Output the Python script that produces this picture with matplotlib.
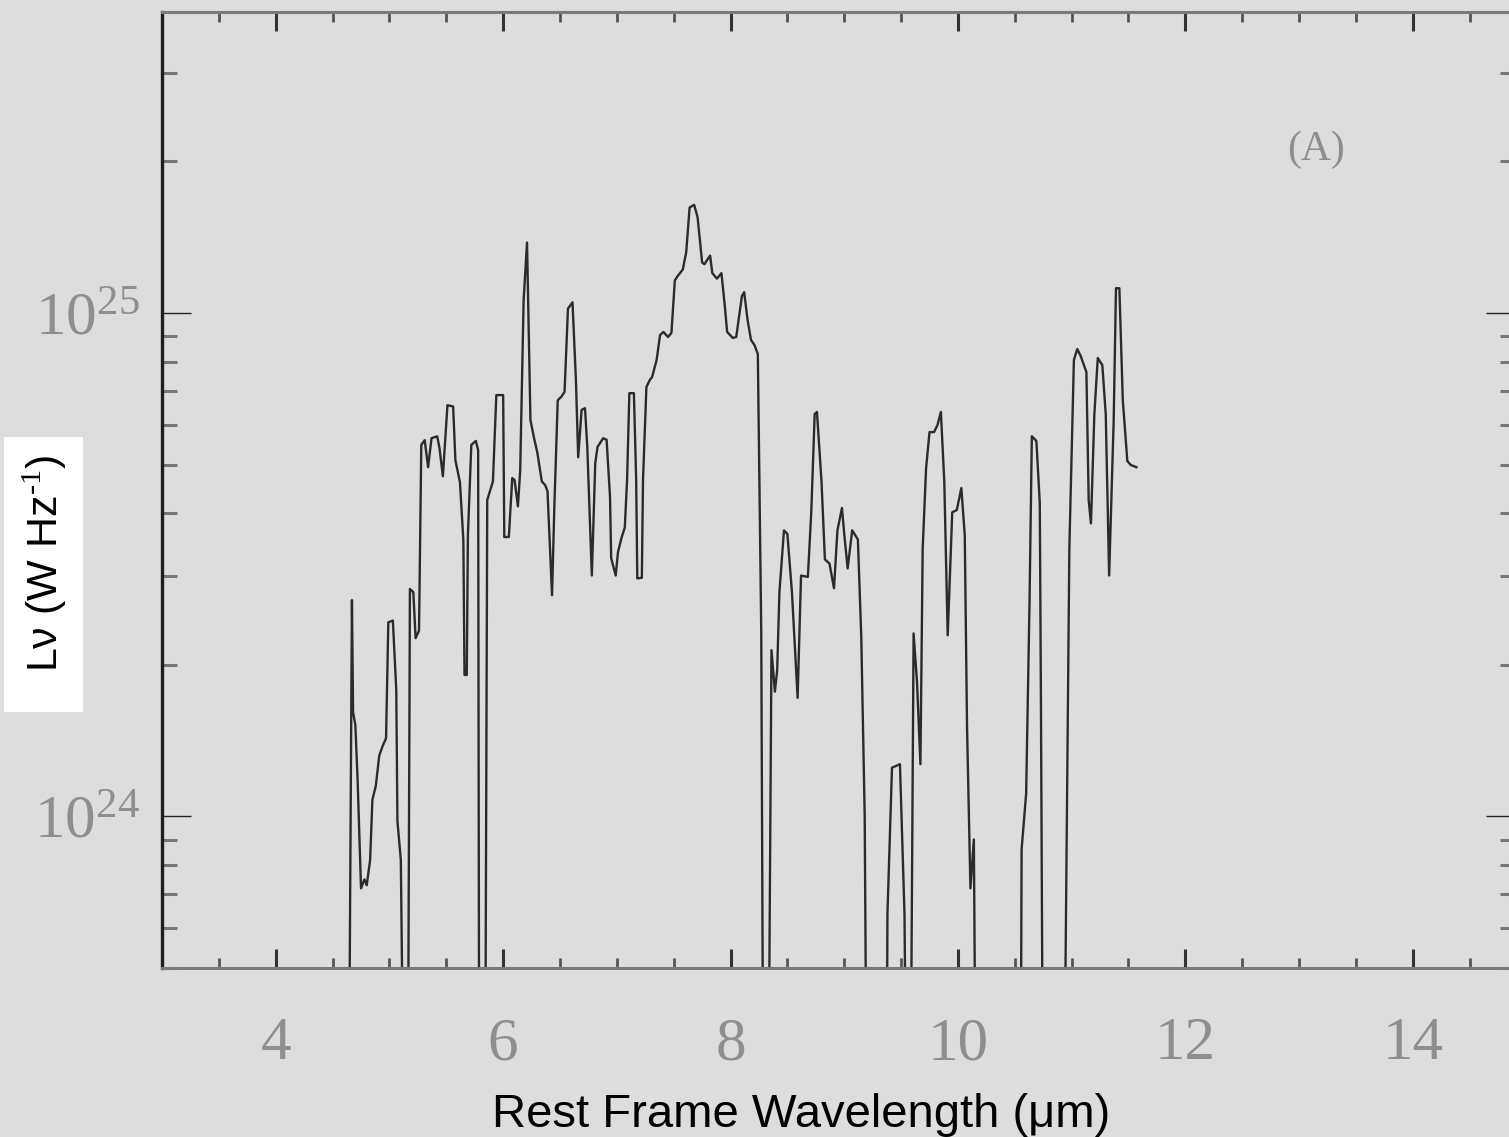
import numpy as np
import matplotlib
matplotlib.use("Agg")
import matplotlib.pyplot as plt
from matplotlib.patches import Rectangle
from matplotlib.ticker import FixedLocator, MultipleLocator, NullFormatter

# rest-frame wavelength (micron) and L_nu in units of 1e24 W/Hz.
# points at 0.2 sit below the plot floor, so the trace drops out of the frame there
wavelength = [
    4.64, 4.67, 4.68, 4.70, 4.72, 4.75, 4.78, 4.80, 4.83, 4.85, 4.88, 4.91, 4.94, 4.97,
    4.99, 5.03, 5.06, 5.07, 5.10, 5.13,
    5.16, 5.18, 5.21, 5.23, 5.26, 5.28, 5.31, 5.34, 5.37, 5.42, 5.44, 5.47, 5.51, 5.56,
    5.58, 5.62, 5.65, 5.66, 5.68, 5.69, 5.72, 5.76, 5.78, 5.79,
    5.84, 5.86, 5.91, 5.94, 6.00, 6.01, 6.05, 6.08, 6.10, 6.13, 6.15, 6.18, 6.21, 6.22,
    6.24, 6.27, 6.30, 6.34, 6.37, 6.39, 6.43, 6.45, 6.48, 6.51, 6.54, 6.57, 6.61, 6.64,
    6.66, 6.69, 6.72, 6.74, 6.78, 6.81, 6.83, 6.88, 6.91, 6.94, 6.95, 6.99, 7.01, 7.04,
    7.07, 7.09, 7.11, 7.15, 7.17, 7.18, 7.22, 7.23, 7.26, 7.29, 7.31, 7.35, 7.38, 7.41,
    7.45, 7.48, 7.51, 7.53, 7.58, 7.61, 7.64, 7.68, 7.71, 7.75, 7.77, 7.82, 7.84, 7.88,
    7.92, 7.95, 7.97, 8.02, 8.05, 8.10, 8.12, 8.15, 8.18, 8.21, 8.24, 8.25, 8.27, 8.29,
    8.33, 8.36, 8.39, 8.41, 8.43, 8.47, 8.50, 8.54, 8.59, 8.62, 8.68, 8.71, 8.74, 8.76,
    8.80, 8.83, 8.87, 8.91, 8.94, 8.98, 9.00, 9.03, 9.07, 9.12, 9.15, 9.18, 9.20,
    9.37, 9.38, 9.42, 9.49, 9.53, 9.55,
    9.58, 9.61, 9.64, 9.67, 9.69, 9.72, 9.75, 9.79, 9.82, 9.85, 9.88, 9.91, 9.95, 9.99,
    10.03, 10.06, 10.08, 10.11, 10.14, 10.16,
    10.55, 10.56, 10.60, 10.63, 10.65, 10.69, 10.72, 10.73, 10.75,
    10.93, 10.98, 11.02, 11.05, 11.08, 11.13, 11.15, 11.17, 11.20, 11.23, 11.27, 11.30,
    11.33, 11.37, 11.39, 11.42, 11.45, 11.49, 11.52, 11.57,
]
lnu_1e24 = [
    0.2, 2.69, 1.61, 1.52, 1.18, 0.72, 0.75, 0.73, 0.82, 1.08, 1.15, 1.32, 1.38, 1.43,
    2.43, 2.45, 1.78, 0.98, 0.82, 0.2,
    0.2, 2.83, 2.79, 2.26, 2.34, 5.47, 5.59, 4.94, 5.64, 5.69, 5.39, 4.74, 6.56, 6.52,
    5.10, 4.61, 3.54, 1.91, 1.91, 3.62, 5.47, 5.57, 5.34, 0.2,
    0.2, 4.25, 4.63, 6.87, 6.87, 3.59, 3.59, 4.70, 4.66, 4.13, 4.87, 10.6, 13.8, 10.6,
    6.13, 5.67, 5.29, 4.63, 4.55, 4.43, 2.75, 4.10, 6.71, 6.81, 6.97, 10.2, 10.5, 7.36,
    5.17, 6.42, 6.47, 5.42, 3.01, 5.03, 5.42, 5.64, 5.60, 4.31, 3.26, 3.01, 3.35, 3.57,
    3.75, 4.66, 6.93, 6.93, 4.66, 2.97, 2.98, 4.66, 7.13, 7.36, 7.46, 8.07, 9.04, 9.17,
    8.96, 9.13, 11.6, 11.8, 12.2, 13.2, 16.2, 16.4, 15.5, 12.6, 12.5, 13.0, 12.0, 11.7,
    12.0, 10.3, 9.17, 8.92, 8.96, 10.8, 11.0, 9.68, 8.84, 8.64, 8.29, 5.42, 2.34, 0.2,
    0.2, 2.14, 1.77, 1.95, 2.79, 3.70, 3.64, 2.79, 1.72, 3.01, 2.99, 4.02, 6.30, 6.36,
    4.63, 3.24, 3.18, 2.84, 3.70, 4.10, 3.64, 3.11, 3.70, 3.55, 2.27, 1.00, 0.2,
    0.2, 0.64, 1.25, 1.27, 0.64, 0.2,
    0.2, 2.31, 1.85, 1.27, 3.41, 4.92, 5.80, 5.80, 5.99, 6.36, 4.63, 2.29, 4.02, 4.06,
    4.49, 3.62, 1.51, 0.72, 0.90, 0.2,
    0.2, 0.86, 1.11, 2.69, 5.69, 5.57, 4.19, 1.70, 0.2,
    0.2, 3.41, 8.07, 8.48, 8.21, 7.63, 4.25, 3.82, 6.30, 8.14, 7.88, 6.30,
    3.01, 6.13, 11.2, 11.2, 6.71, 5.08, 4.99, 4.94,
]

x_ticks = [4, 6, 8, 10, 12, 14]
x_tick_labels = ["4", "6", "8", "10", "12", "14"]
y_ticks = [1e24, 1e25]
y_tick_labels = [r"$10^{24}$", r"$10^{25}$"]

bg = "#dcdddc"
tick_grey = "#8e8e8e"
plt.rcParams["mathtext.fontset"] = "custom"
plt.rcParams["mathtext.rm"] = "Liberation Serif"
plt.rcParams["mathtext.default"] = "regular"

fig = plt.figure(figsize=(15.09, 11.37), dpi=100, facecolor=bg)
ax = fig.add_axes([0.1074, 0.1486, 0.8966, 0.8408], facecolor=bg)

ax.plot(wavelength, np.array(lnu_1e24) * 1e24, color="#2b2b2b", lw=1.7,
        solid_joinstyle="round")

ax.set_yscale("log")
ax.set_xlim(3, 14.9)
ax.set_ylim(5e23, 3.96e25)

ax.xaxis.set_major_locator(FixedLocator(x_ticks))
ax.set_xticklabels(x_tick_labels)
ax.xaxis.set_minor_locator(MultipleLocator(0.5))
ax.yaxis.set_major_locator(FixedLocator(y_ticks))
ax.set_yticklabels(y_tick_labels)
minor_y = [m * 10.0**e for e in (23, 24, 25) for m in range(2, 10)]
ax.yaxis.set_minor_locator(FixedLocator(minor_y))
ax.yaxis.set_minor_formatter(NullFormatter())

ax.tick_params(axis="x", which="major", direction="in", top=True, length=14, width=2.2,
               color="#333333", pad=35, labelsize=44, labelcolor=tick_grey)
ax.tick_params(axis="x", which="minor", direction="in", top=True, length=7, width=2,
               color="#555555")
ax.tick_params(axis="y", which="major", direction="in", right=True, length=21, width=1,
               color="#222222", pad=16, labelsize=44, labelcolor=tick_grey)
ax.tick_params(axis="y", which="minor", direction="in", right=True, length=11, width=2.2,
               color="#777777")
for lab in ax.get_xticklabels() + ax.get_yticklabels():
    lab.set_fontfamily("Liberation Serif")

ax.spines["left"].set_color("#1e1e1e")
ax.spines["left"].set_linewidth(2.4)
for side in ("bottom", "top", "right"):
    ax.spines[side].set_color("#7a7a7a")
    ax.spines[side].set_linewidth(2.2)

ax.text(0.853, 0.856, "(A)", transform=ax.transAxes, fontsize=30,
        family="Liberation Serif", color=tick_grey, ha="center", va="center")

fig.text(0.531, 0.0088, "Rest Frame Wavelength (\u03bcm)", fontsize=34,
         family="Liberation Sans", color="black", ha="center", va="baseline")

# white panel behind the y label
fig.patches.append(Rectangle((0.0027, 0.3738), 0.0524, 0.2419, transform=fig.transFigure,
                             facecolor="white", edgecolor="none", zorder=1))
fig.text(0.0298, 0.5048, "L\u03bd (W Hz$^{\\text{-1}}$)", rotation=90, fontsize=31,
         family="Liberation Sans", color="black", ha="center", va="center", zorder=2)

fig.savefig("out.png", dpi=100, facecolor=bg)
